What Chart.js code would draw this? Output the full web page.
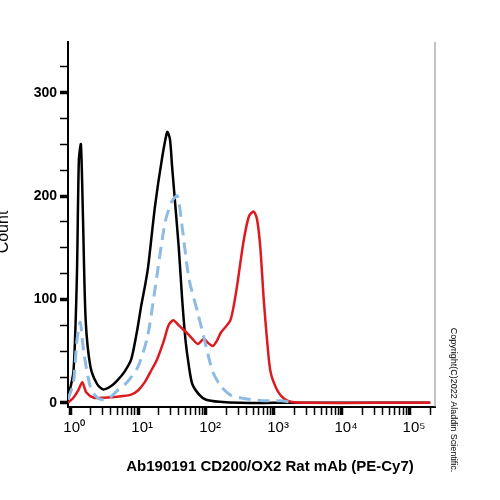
<!DOCTYPE html><html><head><script src="https://cdn.jsdelivr.net/npm/chart.js"></script>
<style>body{margin:0;background:#fff}</style></head><body><canvas id="c" width="500" height="500"></canvas>
<script>
const blackX=[-0.03,0.05,0.1,0.13,0.16,0.19,0.23,0.3,0.4,0.49,0.6,0.7,0.8,0.9,0.99,1.05,1.1,1.15,1.25,1.35,1.43,1.47,1.5,1.55,1.6,1.65,1.7,1.75,1.8,1.9,2.0,2.2,2.5,3.0,5.3];
const blackY=[5,30,120,235,250,180,80,35,18,13,16,22,30,42,71,95,112,132,190,235,262,255,230,190,150,100,60,35,18,8,3,1,0,0,0];
const blueX=[-0.03,0.05,0.1,0.15,0.2,0.3,0.4,0.5,0.6,0.7,0.84,1.0,1.14,1.25,1.4,1.5,1.58,1.65,1.75,1.88,2.0,2.1,2.22,2.35,2.5,2.7,2.9,3.1,3.3];
const blueY=[3,20,60,78,50,15,5,3,6,12,20,35,64,110,175,195,200,170,120,87,55,30,16,8,5,3,2,2,0];
const redX=[-0.03,0.05,0.12,0.18,0.24,0.35,0.5,0.7,0.9,1.0,1.1,1.2,1.28,1.38,1.45,1.52,1.6,1.73,1.8,1.88,1.97,2.03,2.1,2.16,2.22,2.36,2.45,2.55,2.63,2.7,2.75,2.8,2.85,2.9,2.95,3.05,3.15,3.25,3.5,4.5,5.3];
const redY=[0,5,12,20,10,5,5,6,8,12,20,32,42,60,75,80,75,67,62,57,62,58,55,60,68,80,110,155,180,185,178,150,100,60,30,12,4,1,0,0,0];
const xTicks=[0,1,2,3,4,5];
const yTicks=[0,100,200,300];
const sup=['⁰','¹','²','³','⁴','⁵'];
const pts=(xs,ys)=>xs.map((x,i)=>({x,y:ys[i]}));
const extras={id:'ex',afterDraw(ch){const c=ch.ctx,a=ch.chartArea;c.save();
c.strokeStyle='#888';c.lineWidth=1;c.beginPath();c.moveTo(a.right,a.top);c.lineTo(a.right,a.bottom);c.stroke();
c.fillStyle='#000';c.font='bold 15px Arial';c.textAlign='center';c.fillText('Ab190191 CD200/OX2 Rat mAb (PE-Cy7)',270,471);
c.translate(8,232);c.rotate(-Math.PI/2);c.font='16px Arial';c.fillText('Count',0,0);c.restore();
c.save();c.translate(451,400);c.rotate(Math.PI/2);c.font='9px Arial';c.textAlign='center';c.fillStyle='#000';c.fillText('Copyright(C)2022 Aladdin Scientific.',0,0);c.restore();}};
new Chart(document.getElementById('c'),{type:'scatter',data:{datasets:[
{data:pts(blueX,blueY),showLine:true,borderColor:'#8dbbe3',borderWidth:3,borderDash:[12,7],pointRadius:0,tension:0.25},
{data:pts(redX,redY),showLine:true,borderColor:'#dc1a1f',borderWidth:2.5,pointRadius:0,tension:0.25},
{data:pts(blackX,blackY),showLine:true,borderColor:'#000',borderWidth:2.5,pointRadius:0,tension:0.25}]},
options:{responsive:false,animation:false,layout:{padding:{top:42,right:65,left:0,bottom:0}},plugins:{legend:{display:false},tooltip:{enabled:false}},
scales:{x:{type:'linear',min:-0.03,max:5.37,afterFit(s){s.height=93},
afterBuildTicks(s){const t=[];xTicks.forEach(d=>{t.push({value:d});if(d<5)for(let k=2;k<10;k++)t.push({value:d+Math.log10(k)});});t.push({value:5.3})
s.ticks=t.filter(o=>o.value<=5.37).sort((a,b)=>a.value-b.value);},
grid:{drawOnChartArea:false,color:'#000',tickLength:8,tickWidth:c=>Number.isInteger(c.tick.value)?3.5:1.5},border:{color:'#000',width:2},
ticks:{autoSkip:false,maxRotation:0,color:'#000',font:{size:15},padding:4,callback:v=>Number.isInteger(v)?'  10'+sup[v]:''}},
y:{min:-4,max:349,afterFit(s){s.width=68},afterBuildTicks(s){const t=[];for(let v=0;v<=325;v+=25)t.push({value:v});s.ticks=t;},
grid:{drawOnChartArea:false,color:'#000',tickLength:8,tickWidth:c=>c.tick.value%100===0?3.5:1.5},border:{color:'#000',width:2},
ticks:{autoSkip:false,color:'#000',font:{size:14,weight:'bold'},callback:v=>yTicks.includes(v)?String(v):''}}}},plugins:[extras]});
</script></body></html>
